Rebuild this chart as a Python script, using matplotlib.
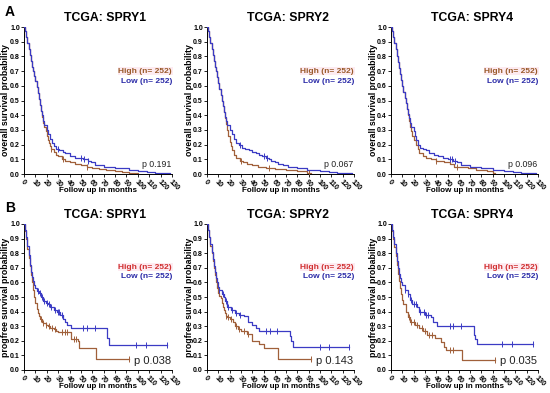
import numpy as np
import matplotlib
matplotlib.use("Agg")
import matplotlib.pyplot as plt

plt.rcParams["font.family"] = ["Liberation Sans", "DejaVu Sans"]

HIGH_TOP, HIGH_BOT, LOW_TXT = "#9a5a2a", "#d03030", "#2b2ba8"
HIGH_LINE, LOW_LINE = "#a0603a", "#3b3bc4"

# ---- overall survival (row A) ----
os1_high_t = [0, 1, 2, 3, 4, 5, 6, 7, 8, 9, 10, 11, 12, 13, 14, 15, 16, 17, 18, 19, 20, 21, 22, 23, 24,
              26, 28, 30, 33, 36, 40, 45, 50, 55, 60, 66, 72, 80, 86, 92, 100]
os1_high_s = [1.0, 0.97, 0.93, 0.89, 0.85, 0.81, 0.77, 0.73, 0.70, 0.67, 0.63, 0.59, 0.55, 0.51, 0.47,
              0.43, 0.39, 0.35, 0.32, 0.29, 0.26, 0.23, 0.21, 0.19, 0.17, 0.15, 0.13, 0.12, 0.10, 0.09,
              0.08, 0.07, 0.06, 0.05, 0.04, 0.035, 0.03, 0.02, 0.015, 0.01, 0.0]
os1_low_t = [0, 1, 2, 3, 4, 5, 6, 7, 8, 9, 10, 11, 12, 13, 14, 15, 16, 17, 18, 20, 21, 23, 24.5, 26, 28,
             31, 34, 36, 40, 45, 52, 56, 59, 62, 70, 80, 92, 100, 108, 115, 122, 128]
os1_low_s = [1.0, 0.97, 0.93, 0.89, 0.85, 0.81, 0.77, 0.73, 0.70, 0.67, 0.63, 0.59, 0.55, 0.51, 0.47,
             0.43, 0.40, 0.36, 0.33, 0.30, 0.27, 0.24, 0.21, 0.19, 0.17, 0.16, 0.15, 0.14, 0.12, 0.11,
             0.10, 0.09, 0.08, 0.06, 0.05, 0.04, 0.03, 0.02, 0.015, 0.01, 0.005, 0.0]
os1_high_c = [24, 34, 55]
os1_low_c = [30, 50, 53, 56]

os2_high_t = [0, 1, 2, 3, 4, 5, 6, 7, 8, 9, 10, 11, 12, 13, 14, 15, 16, 17, 18, 19, 20, 21, 22, 24,
              26, 29, 32, 35, 40, 45, 52, 60, 70, 80, 88, 92]
os2_high_s = [1.0, 0.97, 0.93, 0.89, 0.85, 0.81, 0.77, 0.73, 0.70, 0.66, 0.62, 0.58, 0.54, 0.50, 0.46,
              0.42, 0.38, 0.34, 0.30, 0.26, 0.22, 0.19, 0.16, 0.13, 0.11, 0.09, 0.08, 0.07, 0.06, 0.05,
              0.04, 0.035, 0.03, 0.02, 0.01, 0.0]
os2_low_t = [0, 1, 2, 3, 4, 5, 6, 7, 8, 9, 10, 11, 12, 13, 14, 15, 16, 17, 18, 20, 22, 24, 26, 28, 31,
             34, 37, 40, 43, 46, 49, 52, 55, 57, 60, 63, 67, 72, 80, 88, 95, 100, 108, 115, 122, 128]
os2_low_s = [1.0, 0.97, 0.93, 0.89, 0.85, 0.81, 0.77, 0.73, 0.70, 0.66, 0.62, 0.58, 0.54, 0.50, 0.46,
             0.42, 0.39, 0.36, 0.33, 0.30, 0.27, 0.24, 0.21, 0.20, 0.18, 0.17, 0.16, 0.15, 0.14, 0.13,
             0.12, 0.11, 0.10, 0.09, 0.08, 0.07, 0.06, 0.05, 0.04, 0.03, 0.025, 0.02, 0.015, 0.01,
             0.005, 0.0]
os2_high_c = [30, 55, 90]
os2_low_c = [29, 50, 53]

os4_high_t = [0, 1, 2, 3, 4, 5, 6, 7, 8, 9, 10, 11, 12, 13, 14, 15, 16, 17, 18, 19, 20, 22, 23.5, 25,
              28, 31, 35, 40, 47, 52, 56, 62, 68, 75, 85, 90, 92]
os4_high_s = [1.0, 0.97, 0.93, 0.89, 0.85, 0.80, 0.76, 0.72, 0.68, 0.64, 0.60, 0.56, 0.52, 0.48, 0.44,
              0.40, 0.36, 0.32, 0.29, 0.26, 0.23, 0.20, 0.17, 0.14, 0.12, 0.11, 0.10, 0.09, 0.08, 0.07,
              0.05, 0.045, 0.04, 0.03, 0.02, 0.01, 0.0]
os4_low_t = [0, 1, 2, 3, 4, 5, 6, 7, 8, 9, 10, 11, 12, 13, 14, 15, 16, 17, 18, 20, 21, 22.5, 24, 26,
             28, 31, 34, 38, 42, 46, 50, 55, 58, 62, 70, 80, 90, 100, 108, 115, 122, 128]
os4_low_s = [1.0, 0.97, 0.93, 0.89, 0.85, 0.80, 0.76, 0.72, 0.68, 0.64, 0.60, 0.56, 0.52, 0.48, 0.44,
             0.41, 0.38, 0.35, 0.32, 0.29, 0.26, 0.23, 0.20, 0.18, 0.17, 0.16, 0.14, 0.13, 0.12, 0.11,
             0.10, 0.09, 0.08, 0.06, 0.05, 0.04, 0.03, 0.02, 0.015, 0.01, 0.005, 0.0]
os4_high_c = [40, 58]
os4_low_c = [52, 54, 57]

# ---- progression-free survival (row B) ----
pfs1_high_t = [0, 1, 2, 3, 4, 5, 6, 7, 8, 9, 10, 11, 12, 13, 14, 16, 17, 19, 21, 23, 26, 28, 30, 41,
               47, 48, 63, 92]
pfs1_high_s = [1.0, 0.95, 0.9, 0.83, 0.77, 0.71, 0.65, 0.6, 0.55, 0.5, 0.46, 0.42, 0.39, 0.37, 0.35,
               0.33, 0.32, 0.31, 0.30, 0.29, 0.28, 0.27, 0.26, 0.21, 0.20, 0.15, 0.075, 0.075]
pfs1_low_t = [0, 1, 2, 3, 4, 5, 6, 7, 8, 9, 10, 11, 13, 15, 17, 19, 21, 23, 26, 29, 32, 34, 36, 37.5,
              41, 73, 75, 126]
pfs1_low_s = [1.0, 0.96, 0.91, 0.85, 0.79, 0.72, 0.67, 0.64, 0.61, 0.58, 0.56, 0.54, 0.53, 0.50, 0.47,
              0.46, 0.45, 0.43, 0.41, 0.40, 0.38, 0.35, 0.33, 0.31, 0.29, 0.22, 0.17, 0.17]
pfs1_high_c = [14.5, 17, 19, 22, 25, 27, 33, 36, 38, 44, 46, 92]
pfs1_low_c = [12, 14, 16, 18, 20, 22, 24, 27, 30, 31, 33, 52, 55, 62, 98, 107, 126]

pfs2_high_t = [0, 1, 2, 3, 4, 5, 6, 7, 8, 9, 10, 11, 12, 13, 14, 15, 16, 17, 18, 20, 23, 25, 27, 30,
               35, 40, 46, 50, 63, 92]
pfs2_high_s = [1.0, 0.96, 0.91, 0.85, 0.80, 0.75, 0.70, 0.65, 0.60, 0.56, 0.53, 0.51, 0.49, 0.46,
               0.43, 0.41, 0.39, 0.37, 0.36, 0.35, 0.33, 0.30, 0.28, 0.27, 0.25, 0.20, 0.18, 0.15,
               0.075, 0.075]
pfs2_low_t = [0, 1, 2, 3, 4, 5, 6, 7, 8, 9, 10, 11, 13, 15, 16, 18, 21, 25, 28, 33, 36, 40, 43, 46, 73,
              74, 76, 126]
pfs2_low_s = [1.0, 0.96, 0.91, 0.86, 0.81, 0.76, 0.71, 0.67, 0.63, 0.60, 0.57, 0.55, 0.52, 0.50, 0.47,
              0.43, 0.41, 0.39, 0.38, 0.37, 0.33, 0.31, 0.29, 0.27, 0.23, 0.20, 0.16, 0.16]
pfs2_high_c = [17, 19, 21, 26, 28, 33, 36, 92]
pfs2_low_c = [11, 14, 17, 19, 22, 26, 29, 52, 56, 62, 100, 108, 126]

pfs4_high_t = [0, 1, 2, 3, 4, 5, 6, 7, 8, 9, 10, 11, 13, 15, 17, 21, 25, 28, 32, 39, 44, 47, 49, 63, 92]
pfs4_high_s = [1.0, 0.95, 0.9, 0.84, 0.78, 0.72, 0.66, 0.61, 0.56, 0.52, 0.48, 0.45, 0.40, 0.36, 0.33,
               0.31, 0.29, 0.27, 0.24, 0.22, 0.19, 0.16, 0.14, 0.07, 0.07]
pfs4_low_t = [0, 1, 2, 3, 4, 5, 6, 7, 8, 9, 10, 12, 15, 17, 19, 23, 25, 30, 35, 37, 41, 73, 74, 76, 126]
pfs4_low_s = [1.0, 0.96, 0.91, 0.86, 0.80, 0.75, 0.70, 0.66, 0.63, 0.60, 0.58, 0.55, 0.52, 0.48, 0.45,
              0.43, 0.40, 0.38, 0.36, 0.33, 0.30, 0.24, 0.21, 0.18, 0.18]
pfs4_high_c = [16, 18, 20, 23, 27, 30, 34, 36, 52, 55, 92]
pfs4_low_c = [12, 15, 18, 20, 22, 26, 29, 31, 33, 52, 55, 62, 98, 107, 126]

genes = ["SPRY1", "SPRY2", "SPRY4"]
pvals_os = ["0.191", "0.067", "0.096"]
pvals_pfs = ["0.038", "0.143", "0.035"]
n_high, n_low = 252, 252
xticks = list(range(0, 131, 10))
yticks = [round(0.1 * i, 1) for i in range(11)]

panels = [
    # row, col, high, low, high censor, low censor
    (0, 0, (os1_high_t, os1_high_s), (os1_low_t, os1_low_s), os1_high_c, os1_low_c),
    (0, 1, (os2_high_t, os2_high_s), (os2_low_t, os2_low_s), os2_high_c, os2_low_c),
    (0, 2, (os4_high_t, os4_high_s), (os4_low_t, os4_low_s), os4_high_c, os4_low_c),
    (1, 0, (pfs1_high_t, pfs1_high_s), (pfs1_low_t, pfs1_low_s), pfs1_high_c, pfs1_low_c),
    (1, 1, (pfs2_high_t, pfs2_high_s), (pfs2_low_t, pfs2_low_s), pfs2_high_c, pfs2_low_c),
    (1, 2, (pfs4_high_t, pfs4_high_s), (pfs4_low_t, pfs4_low_s), pfs4_high_c, pfs4_low_c),
]

# axes boxes in pixels of a 550x393 canvas
W, H = 550, 393
LEFTS = [24, 207, 391]
WIDTHS = [148, 147, 147]
ROW_Y = [(27, 174), (224, 370)]


def surv_at(t, s, c):
    t = np.asarray(t, float)
    s = np.asarray(s, float)
    return s[np.searchsorted(t, c, side="right") - 1]


fig = plt.figure(figsize=(W / 100, H / 100), dpi=100, facecolor="white")

for row, col, (ht, hs), (lt, ls), hc, lc in panels:
    top, bot = ROW_Y[row]
    hpx = bot - top
    ax = fig.add_axes([LEFTS[col] / W, 1 - bot / H, WIDTHS[col] / W, hpx / H])
    ax.step(ht, hs, where="post", color=HIGH_LINE, lw=0.9, zorder=3)
    ax.step(lt, ls, where="post", color=LOW_LINE, lw=0.9, zorder=3)
    ax.plot(hc, surv_at(ht, hs, hc), ls="none", marker="|", ms=4, mew=0.7, color=HIGH_LINE, zorder=4)
    ax.plot(lc, surv_at(lt, ls, lc), ls="none", marker="|", ms=4, mew=0.7, color=LOW_LINE, zorder=4)

    ax.set_xlim(0, 130)
    ax.set_ylim(0, 1.0)
    ax.set_xticks(xticks)
    ax.set_yticks(yticks)
    ax.set_xticklabels([str(v) for v in xticks], rotation=-45, ha="left", rotation_mode="anchor",
                       fontsize=5.2, fontweight="bold")
    ax.set_yticklabels([f"{v:.1f}" for v in yticks], fontsize=5, fontweight="bold")
    ax.tick_params(length=2, width=0.6, pad=1)
    for side in ("top", "right"):
        ax.spines[side].set_visible(False)
    for side in ("left", "bottom"):
        ax.spines[side].set_linewidth(0.7)

    ax.text(0.5, -16 / hpx, "Follow up in months", transform=ax.transAxes, ha="center",
            va="center", fontsize=5.8, fontweight="bold")
    ax.text(-18 / WIDTHS[col], 0.5,
            "overall survival probability" if row == 0 else "progfree survival probability",
            transform=ax.transAxes, rotation=90, ha="center", va="center",
            fontsize=6.3, fontweight="bold")
    ax.text(0.55, 1 + 3 / hpx, f"TCGA: {genes[col]}", transform=ax.transAxes, ha="center",
            va="bottom", fontsize=8.8, fontweight="bold")

    hy, ly = (0.70, 0.627) if row == 0 else (0.705, 0.637)
    ax.text(1.0, hy, f"High (n= {n_high})", transform=ax.transAxes, ha="right", va="center",
            fontsize=6, fontweight="bold", color=HIGH_TOP if row == 0 else HIGH_BOT,
            bbox=dict(boxstyle="square,pad=0.1", fc="#fdebf1", ec="none"))
    ax.text(1.0, ly, f"Low (n= {n_low})", transform=ax.transAxes, ha="right", va="center",
            fontsize=6, fontweight="bold", color=LOW_TXT)
    pv = pvals_os[col] if row == 0 else pvals_pfs[col]
    ax.text(0.995, 0.068 if row == 0 else 0.06, f"p {pv}", transform=ax.transAxes, ha="right",
            va="center", fontsize=6.3 if row == 0 else 8, color="#222222")

fig.text(5 / W, 1 - 12 / H, "A", fontsize=10, fontweight="bold", ha="left", va="center")
fig.text(5 / W, 1 - 208 / H, "B", fontsize=10, fontweight="bold", ha="left", va="center")

fig.savefig("out.png", dpi=100, facecolor="white")
